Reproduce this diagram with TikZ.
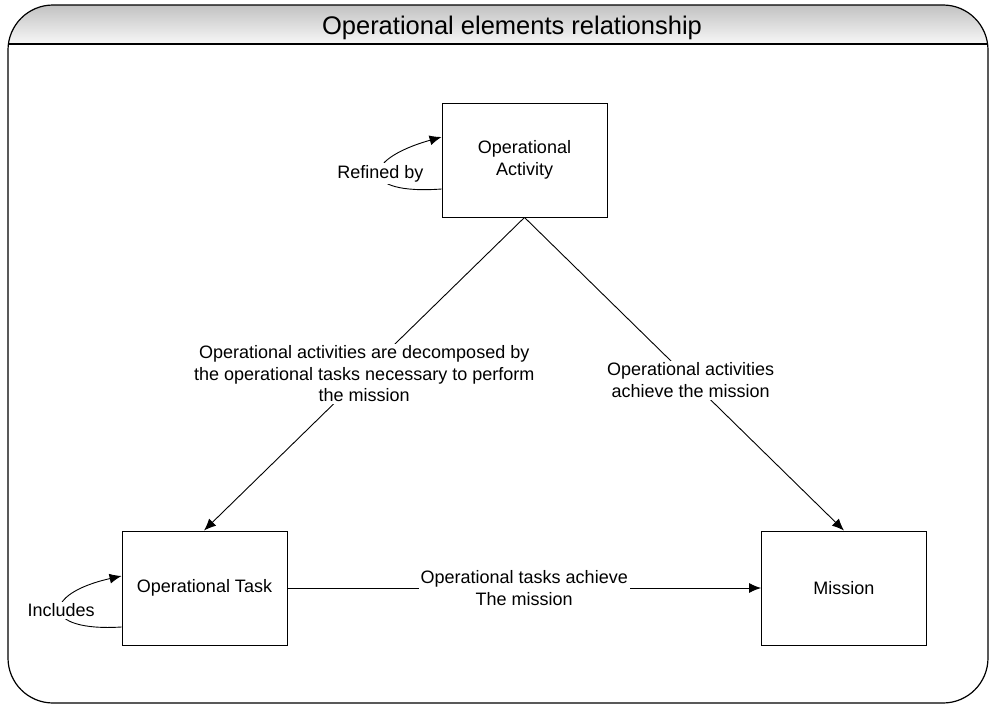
\documentclass[tikz,border=0pt]{standalone}
\usepackage{fontspec}
\setmainfont{Liberation Sans}
\usetikzlibrary{arrows.meta,shadings}
\begin{document}
\begin{tikzpicture}[x=1pt,y=-1pt,
  box/.style={draw,line width=0.9pt,minimum width=165pt,minimum height=114pt,align=center,font=\fontsize{18}{21.5}\selectfont},
  lbl/.style={fill=white,inner sep=2pt,align=center,font=\fontsize{18}{21.5}\selectfont},
  conn/.style={line width=0.9pt,-{Latex[length=12pt,width=10pt]}},
  loop/.style={line width=0.9pt,-{Latex[length=12pt,width=10pt]}}]
\useasboundingbox (0,0) rectangle (989,704);
% header
\shade[top color=gray!48,bottom color=gray!6,rounded corners=45pt]
  (8,44) -- (8,5) -- (988,5) [sharp corners] -- (988,44) -- cycle;
\draw[line width=1.2pt] (8,44) -- (988,44);
\draw[line width=1.2pt,rounded corners=45pt] (8,5) rectangle (988,703);
\node[font=\fontsize{25.5}{30}\selectfont] (title) at (512,28) {Operational elements relationship};
% boxes
\node[box] (A) at (524.5,160) {Operational\\Activity};
\node[box] (T) at (204.5,588) {Operational Task};
\node[box] (M) at (844,588) {Mission};
% connectors
\draw[conn] (A.south) -- node[lbl,pos=0.5] {Operational activities are decomposed by\\the operational tasks necessary to perform\\the mission} ([xshift=-0.5pt]T.north);
\draw[conn] (A.south) -- node[lbl,pos=0.52] {Operational activities\\achieve the mission} (M.north);
\draw[conn] (T.east) -- node[lbl] {Operational tasks achieve\\The mission} (M.west);
% self loops
\draw[loop] ([yshift=-29pt]A.west) .. controls (360,195) and (360,160) .. node[lbl,pos=0.5] {Refined by} ([yshift=23pt]A.west);
\draw[loop] ([yshift=-39pt]T.west) .. controls (41,632) and (41,594) .. node[lbl,pos=0.5] {Includes} ([yshift=12pt]T.west);
\end{tikzpicture}
\end{document}
